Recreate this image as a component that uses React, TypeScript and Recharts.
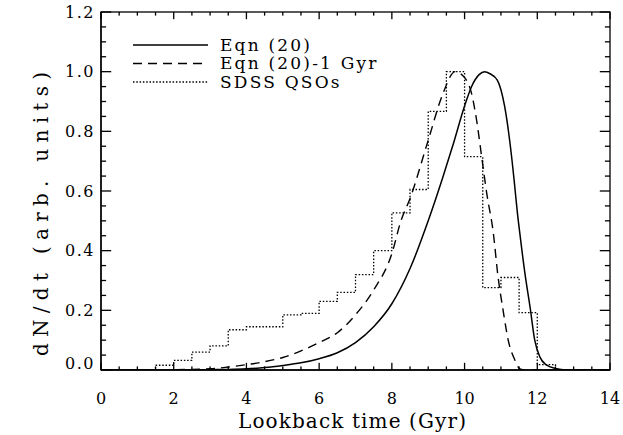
import { Customized, Line, LineChart, XAxis, YAxis } from "recharts";

// Eqn (20): model quasar rate vs lookback time
const eqnTime = [0, 2, 3, 3.5, 4, 4.5, 5, 5.5, 6, 6.5, 7, 7.5, 8, 8.5, 9, 9.4, 9.7, 10, 10.2, 10.4, 10.55, 10.7, 10.9, 11.1, 11.25, 11.36, 11.45, 11.52, 11.66, 11.8, 11.93, 12.07, 12.25, 12.5, 12.8, 14];
const eqnRate = [0, 0, 0.001, 0.002, 0.004, 0.008, 0.015, 0.024, 0.038, 0.058, 0.092, 0.145, 0.222, 0.34, 0.5, 0.645, 0.762, 0.885, 0.952, 0.99, 1.0, 0.993, 0.972, 0.885, 0.76, 0.64, 0.53, 0.458, 0.324, 0.212, 0.1, 0.044, 0.017, 0.005, 0, 0];

// Eqn (20) - 1 Gyr
const shiftedTime = [0, 2, 3, 3.5, 4, 4.5, 5, 5.5, 6, 6.5, 7, 7.5, 8, 8.25, 8.5, 9, 9.4, 9.74, 10, 10.19, 10.33, 10.47, 10.61, 10.79, 10.92, 11.06, 11.2, 11.39, 11.52, 11.7, 14];
const shiftedRate = [0, 0.001, 0.004, 0.01, 0.018, 0.028, 0.042, 0.064, 0.092, 0.125, 0.185, 0.268, 0.39, 0.5, 0.575, 0.77, 0.925, 1.0, 0.98, 0.928, 0.838, 0.715, 0.592, 0.46, 0.313, 0.2, 0.1, 0.032, 0.004, 0, 0];

// SDSS QSOs histogram (bin left edges, normalised counts)
const qsoBinStart = [0, 1.5, 2, 2.5, 3, 3.5, 4, 4.5, 5, 5.5, 6, 6.5, 7, 7.5, 8, 8.5, 9, 9.5, 10, 10.5, 11, 11.5, 12, 12.5, 14];
const qsoRate = [0, 0.016, 0.032, 0.06, 0.081, 0.135, 0.145, 0.145, 0.185, 0.19, 0.23, 0.26, 0.32, 0.4, 0.527, 0.605, 0.867, 1.0, 0.715, 0.276, 0.31, 0.192, 0.018, 0, 0];

const xMajor = [0, 2, 4, 6, 8, 10, 12, 14];
const yMajor = [0, 0.2, 0.4, 0.6, 0.8, 1.0, 1.2];
const legendNames = ["Eqn (20)", "Eqn (20)-1 Gyr", "SDSS QSOs"];

const eqnData = eqnTime.map((x, i) => ({ x, y: eqnRate[i] }));
const shiftedData = shiftedTime.map((x, i) => ({ x, y: shiftedRate[i] }));
const qsoData = qsoBinStart.map((x, i) => ({ x, y: qsoRate[i] }));

const xTicks = Array.from({ length: 29 }, (_, i) => i * 0.5);
const yTicks = Array.from({ length: 25 }, (_, i) => Math.round(i * 5) / 100);

const W = 623;
const H = 435;
const MARGIN = { top: 12, right: 13, bottom: 0, left: 0 };
const Y_AXIS_W = 101;
const X_AXIS_H = 65;
const PLOT_TOP = MARGIN.top;
const PLOT_RIGHT = W - MARGIN.right;

const FONT = "'DejaVu Serif', serif";
const INK = "#000";
const TW = 1.3; // tick thickness
const isMajor = (v: number, list: number[]) => list.some((m) => Math.abs(m - v) < 1e-6);

// IDL style: inward ticks on all four sides, minor ticks half length
function BottomTick(props: any) {
  const { x, y, payload } = props;
  const v = payload.value;
  const major = isMajor(v, xMajor);
  const len = major ? 7.2 : 3.6;
  return (
    <g>
      <rect x={x - TW / 2} y={y - len} width={TW} height={len} fill={INK} />
      <rect x={x - TW / 2} y={PLOT_TOP} width={TW} height={len} fill={INK} />
      {major && (
        <text x={x} y={y + 33.5} textAnchor="middle" fontFamily={FONT} fontSize={16} fill={INK}>
          {v}
        </text>
      )}
    </g>
  );
}

function LeftTick(props: any) {
  const { x, y, payload } = props;
  const v = payload.value;
  const major = isMajor(v, yMajor);
  const len = major ? 10.2 : 5.1;
  const dy = v === 0 ? -1 : 5.8;
  return (
    <g>
      <rect x={x} y={y - TW / 2} width={len} height={TW} fill={INK} />
      <rect x={PLOT_RIGHT - len} y={y - TW / 2} width={len} height={TW} fill={INK} />
      {major && (
        <text x={x - 6} y={y + dy} textAnchor="end" fontFamily={FONT} fontSize={16} letterSpacing={1.5} fill={INK}>
          {v.toFixed(1)}
        </text>
      )}
    </g>
  );
}

function Decorations() {
  const dashes = [undefined, "9 6", "1.5 1.8"];
  const rows = [45, 63.5, 82];
  return (
    <g>
      <rect
        x={Y_AXIS_W}
        y={PLOT_TOP}
        width={PLOT_RIGHT - Y_AXIS_W}
        height={H - X_AXIS_H - PLOT_TOP}
        fill="none"
        stroke={INK}
        strokeWidth={1.3}
      />
      {legendNames.map((name, i) => (
        <g key={name}>
          <line x1={133} x2={208} y1={rows[i]} y2={rows[i]} stroke={INK} strokeWidth={1.4} strokeDasharray={dashes[i]} />
          <text x={220} y={rows[i] + 5.5} fontFamily={FONT} fontSize={17} letterSpacing={2.2} fill={INK}>
            {name}
          </text>
        </g>
      ))}
      <text x={352} y={428} textAnchor="middle" fontFamily={FONT} fontSize={20} textLength={228} lengthAdjust="spacing" fill={INK}>
        Lookback time (Gyr)
      </text>
      <text
        x={0}
        y={0}
        transform="translate(48 214) rotate(-90)"
        textAnchor="middle"
        fontFamily={FONT}
        fontSize={20}
        textLength={284}
        lengthAdjust="spacing"
        fill={INK}
      >
        dN/dt (arb. units)
      </text>
    </g>
  );
}

const axisLine = { stroke: INK, strokeWidth: 1.3 };

export default function App() {
  return (
    <div style={{ position: "absolute", left: 0, top: 0, background: "#fff" }}>
      <LineChart width={W} height={H} margin={MARGIN}>
        <XAxis
          dataKey="x"
          type="number"
          domain={[0, 14]}
          ticks={xTicks}
          interval={0}
          allowDataOverflow
          height={X_AXIS_H}
          tickSize={0}
          tickMargin={0}
          tickLine={false}
          tick={<BottomTick />}
          axisLine={axisLine}
        />
        <YAxis
          type="number"
          domain={[0, 1.2]}
          ticks={yTicks}
          interval={0}
          allowDataOverflow
          width={Y_AXIS_W}
          tickSize={0}
          tickMargin={0}
          tickLine={false}
          tick={<LeftTick />}
          axisLine={axisLine}
        />
        <Line data={qsoData} dataKey="y" type="stepAfter" stroke={INK} strokeWidth={1.3} strokeDasharray="1.5 1.8" dot={false} isAnimationActive={false} />
        <Line data={shiftedData} dataKey="y" type="monotone" stroke={INK} strokeWidth={1.4} strokeDasharray="9 6" dot={false} isAnimationActive={false} />
        <Line data={eqnData} dataKey="y" type="monotone" stroke={INK} strokeWidth={1.5} dot={false} isAnimationActive={false} />
        <Customized component={Decorations} />
      </LineChart>
    </div>
  );
}
